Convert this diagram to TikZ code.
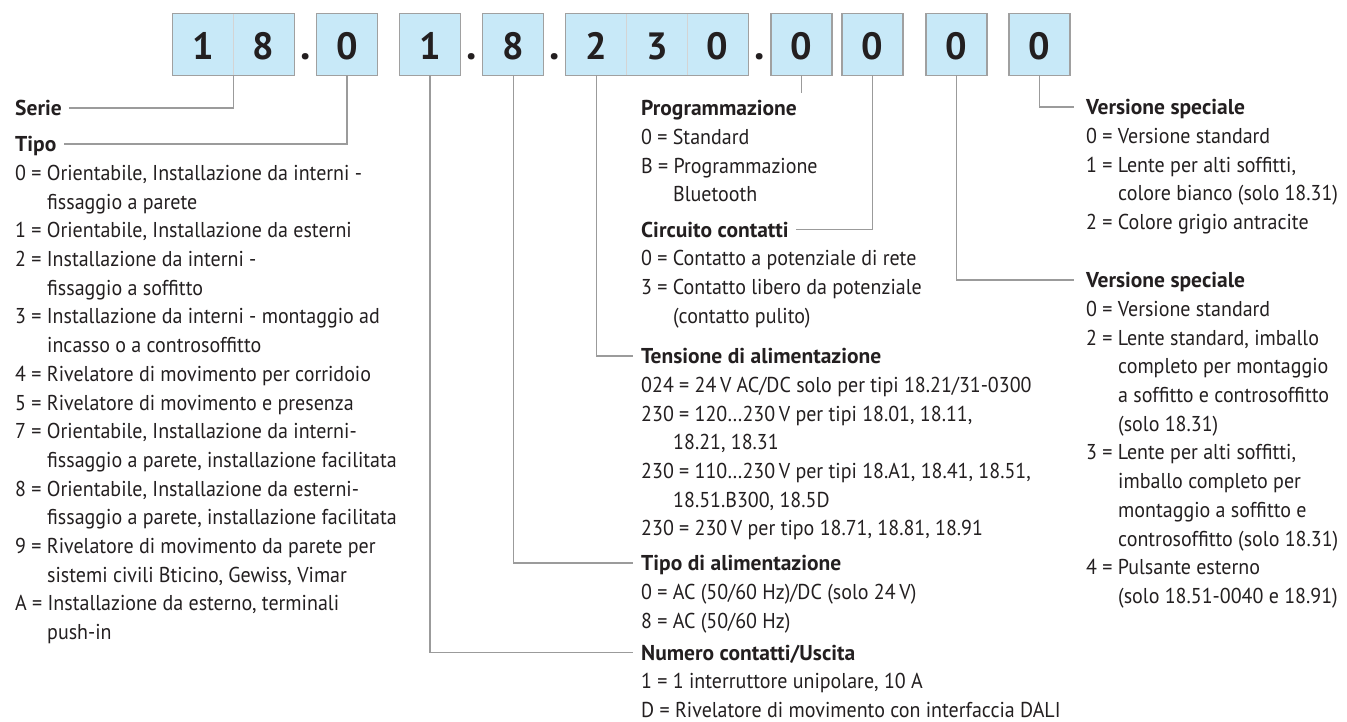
\documentclass[tikz,border=0pt]{standalone}
\usepackage{fontspec}
\setmainfont{PT Sans}[UprightFeatures={FakeStretch=0.93}]
\usetikzlibrary{positioning}

\definecolor{boxblue}{RGB}{200,233,248}
\definecolor{boxgray}{RGB}{160,160,160}
\definecolor{linegray}{RGB}{155,155,155}
\definecolor{ink}{RGB}{35,31,32}
\newcommand{\indline}{\hspace*{32pt}}

\begin{document}
\begin{tikzpicture}[x=1pt,y=-1pt,
    cell/.style={fill=boxblue, minimum width=60.6pt, minimum height=61pt, inner sep=0pt, text height=31pt, text depth=0pt, font=\fontsize{38}{40}\selectfont\bfseries, text=ink},
    period/.style={anchor=base, inner sep=0pt, font=\fontsize{42}{44}\selectfont\bfseries, text=ink},
    head/.style={anchor=base west, inner sep=0pt, text height=15pt, text depth=0pt, font=\fontsize{21.5}{28.7}\selectfont\bfseries, text=ink},
    list/.style={inner sep=0pt, align=left, font=\fontsize{21.5}{28.7}\selectfont, text=ink, execute at begin node=\strut},
    conn/.style={draw=linegray, line width=1.2pt},
    frame/.style={draw=boxgray, line width=1.3pt},
    divider/.style={draw=boxgray!45, line width=0.8pt}]
        \useasboundingbox (0,0) rectangle (1347,722);

        \foreach \n/\x/\d in {1/203.25/1, 2/263.75/8, 3/347/0, 4/430/1, 5/513.3/8, 6/596.3/2, 7/657/3, 8/717.7/0, 9/801.5/0, 10/872.5/0, 11/956.5/0, 12/1039.5/0} {
            \node[cell] (k\n) at (\x,44.5) {\d};
        }
        \draw[divider] (k1.north east) -- (k1.south east) (k6.north east) -- (k6.south east) (k7.north east) -- (k7.south east);
        \draw[frame] (k1.north west) rectangle (k2.south east) (k6.north west) rectangle (k8.south east);
        \foreach \n in {3,4,5,9,10,11,12} {
            \draw[frame] (k\n.north west) rectangle (k\n.south east);
        }
        \node[period] (p1) at (305.5,60) {.};
        \node[period] (p2) at (471.6,60) {.};
        \node[period] (p3) at (554.8,60) {.};
        \node[period] (p4) at (759.5,60) {.};

        \node[head] (serie) at (15,115.5) {Serie};
        \node[head] (tipo) at (15,151.5) {Tipo};
        \node[list, below right=13.4pt and 0pt of tipo.base west] (tipolist) {0 = Orientabile, Installazione da interni -\\
            \indline fissaggio a parete\\
            1 = Orientabile, Installazione da esterni\\
            2 = Installazione da interni -\\
            \indline fissaggio a soffitto\\
            3 = Installazione da interni - montaggio ad\\
            \indline incasso o a controsoffitto\\
            4 = Rivelatore di movimento per corridoio\\
            5 = Rivelatore di movimento e presenza\\
            7 = Orientabile, Installazione da interni-\\
            \indline fissaggio a parete, installazione facilitata\\
            8 = Orientabile, Installazione da esterni-\\
            \indline fissaggio a parete, installazione facilitata\\
            9 = Rivelatore di movimento da parete per\\
            \indline sistemi civili Bticino, Gewiss, Vimar\\
            A = Installazione da esterno, terminali\\
            \indline push-in};

        \node[head] (prog) at (641,115.5) {Programmazione};
        \node[list, below right=13.4pt and 0pt of prog.base west] (proglist) {0 = Standard\\
            B = Programmazione\\
            \indline Bluetooth};
        \node[head] (circ) at (641,237) {Circuito contatti};
        \node[list, below right=13.4pt and 0pt of circ.base west] (circlist) {0 = Contatto a potenziale di rete\\
            3 = Contatto libero da potenziale\\
            \indline (contatto pulito)};
        \node[head] (tens) at (641,363.5) {Tensione di alimentazione};
        \node[list, below right=13.4pt and 0pt of tens.base west] (tenslist) {024 = 24\,V AC/DC solo per tipi 18.21/31-0300\\
            230 = 120\dots230\,V per tipi 18.01, 18.11,\\
            \indline 18.21, 18.31\\
            230 = 110\dots230\,V per tipi 18.A1, 18.41, 18.51,\\
            \indline 18.51.B300, 18.5D\\
            230 = 230\,V per tipo 18.71, 18.81, 18.91};
        \node[head] (alim) at (641,570.5) {Tipo di alimentazione};
        \node[list, below right=13.4pt and 0pt of alim.base west] (alimlist) {0 = AC (50/60 Hz)/DC (solo 24\,V)\\
            8 = AC (50/60 Hz)};
        \node[head] (numero) at (641,660) {Numero contatti/Uscita};
        \node[list, below right=13.4pt and 0pt of numero.base west] (numerolist) {1 = 1 interruttore unipolare, 10 A\\
            D = Rivelatore di movimento con interfaccia DALI};

        \node[head] (vs1) at (1086,114.5) {Versione speciale};
        \node[list, below right=13.4pt and 0pt of vs1.base west] (vs1list) {0 = Versione standard\\
            1 = Lente per alti soffitti,\\
            \indline colore bianco (solo 18.31)\\
            2 = Colore grigio antracite};
        \node[head] (vs2) at (1086,287.5) {Versione speciale};
        \node[list, below right=13.4pt and 0pt of vs2.base west] (vs2list) {0 = Versione standard\\
            2 = Lente standard, imballo\\
            \indline completo per montaggio\\
            \indline a soffitto e controsoffitto\\
            \indline (solo 18.31)\\
            3 = Lente per alti soffitti,\\
            \indline imballo completo per\\
            \indline montaggio a soffitto e\\
            \indline controsoffitto (solo 18.31)\\
            4 = Pulsante esterno\\
            \indline (solo 18.51-0040 e 18.91)};

        \draw[conn] (k2.south west) |- ([xshift=7pt]serie.east);
        \draw[conn] (k3.south) |- ([xshift=7pt]tipo.east);
        \draw[conn] (k4.south) |- ([xshift=-8pt]numero.west);
        \draw[conn] (k5.south) |- ([xshift=-8pt]alim.west);
        \draw[conn] (k6.south) |- ([xshift=-8pt]tens.west);
        \draw[conn] (k9.south) -- ([yshift=7pt]k9.south |- prog.north);
        \draw[conn] (k10.south) |- ([xshift=7pt]circ.east);
        \draw[conn] (k11.south) |- ([xshift=-12pt]vs2.west);
        \draw[conn] (k12.south) |- ([xshift=-12pt]vs1.west);
        
    \end{tikzpicture}
\end{document}
